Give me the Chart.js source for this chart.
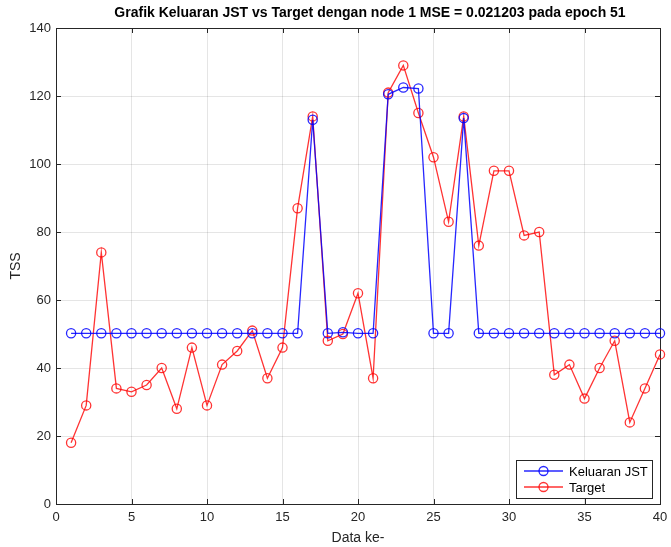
<!DOCTYPE html>
<html>
<head>
<meta charset="utf-8">
<script src="https://cdn.jsdelivr.net/npm/chart.js@4/dist/chart.umd.min.js"></script>
<style>
html,body{margin:0;padding:0;background:#fff;}
#wrap{width:671px;height:547px;}
</style>
</head>
<body>
<div id="wrap"><canvas id="c" width="671" height="547"></canvas></div>
<script>
const titleText = "Grafik Keluaran JST vs Target dengan node 1 MSE = 0.021203 pada epoch 51";
const xLabel = "Data ke-";
const yLabel = "TSS";
const dataIndex = [1,2,3,4,5,6,7,8,9,10,11,12,13,14,15,16,17,18,19,20,21,22,23,24,25,26,27,28,29,30,31,32,33,34,35,36,37,38,39,40];
const keluaranJST = [50.2,50.2,50.2,50.2,50.2,50.2,50.2,50.2,50.2,50.2,50.2,50.2,50.2,50.2,50.2,50.2,113,50.2,50.5,50.2,50.2,120.5,122.5,122.2,50.2,50.2,113.5,50.2,50.2,50.2,50.2,50.2,50.2,50.2,50.2,50.2,50.2,50.2,50.2,50.2];
const target = [18,29,74,34,33,35,40,28,46,29,41,45,51,37,46,87,114,48,50,62,37,121,129,115,102,83,114,76,98,98,79,80,38,41,31,40,48,24,34,44];
const seriesNames = ["Keluaran JST","Target"];
const xTicks = [0,5,10,15,20,25,30,35,40];
const yTicks = [0,20,40,60,80,100,120,140];

const BLUE = "rgba(0,0,255,0.85)";
const RED = "rgba(255,0,0,0.8)";
const AXC = "#262626";
const FONT = "'Liberation Sans', Arial, Helvetica, sans-serif";

function pts(ys){ return dataIndex.map((x,i)=>({x:x,y:ys[i]})); }

const matlabPlugin = {
  id:'matlab',
  beforeDatasetsDraw(chart){
    const ctx = chart.ctx, a = chart.chartArea;
    const xs = chart.scales.x, ys = chart.scales.y;
    ctx.save();
    ctx.strokeStyle = AXC; ctx.lineWidth = 1;
    ctx.strokeRect(Math.round(a.left)+0.5, Math.round(a.top)+0.5, Math.round(a.right-a.left), Math.round(a.bottom-a.top));
    const tl = 5;
    ctx.beginPath();
    xTicks.forEach(v=>{
      const px = Math.round(xs.getPixelForValue(v))+0.5;
      ctx.moveTo(px,a.bottom); ctx.lineTo(px,a.bottom-tl);
      ctx.moveTo(px,a.top); ctx.lineTo(px,a.top+tl);
    });
    yTicks.forEach(v=>{
      const py = Math.round(ys.getPixelForValue(v))+0.5;
      ctx.moveTo(a.left,py); ctx.lineTo(a.left+tl,py);
      ctx.moveTo(a.right,py); ctx.lineTo(a.right-tl,py);
    });
    ctx.stroke();
    ctx.restore();
  },
  afterDraw(chart){
    const ctx = chart.ctx, a = chart.chartArea;
    ctx.save();
    ctx.fillStyle = "#000";
    ctx.font = "bold 14px " + FONT;
    ctx.textAlign = "center"; ctx.textBaseline = "middle";
    ctx.fillText(titleText, (a.left+a.right)/2 + 12, 13);
    const bw = 136, bh = 38;
    const bx = a.right - 8 - bw, by = a.bottom - 6 - bh;
    ctx.fillStyle = "#fff";
    ctx.fillRect(bx,by,bw,bh);
    ctx.strokeStyle = AXC; ctx.lineWidth = 1;
    ctx.strokeRect(Math.round(bx)+0.5, Math.round(by)+0.5, bw, bh);
    const cols = [BLUE, RED];
    ctx.font = "13px " + FONT; ctx.textAlign = "left"; ctx.textBaseline = "middle";
    seriesNames.forEach((n,i)=>{
      const yy = by + 11 + i*16;
      ctx.strokeStyle = cols[i]; ctx.lineWidth = 1.3;
      ctx.beginPath(); ctx.moveTo(bx+8,yy); ctx.lineTo(bx+47,yy); ctx.stroke();
      ctx.beginPath(); ctx.arc(bx+27.5,yy,4.5,0,Math.PI*2); ctx.stroke();
      ctx.fillStyle = "#000";
      ctx.fillText(n, bx+53, yy+1);
    });
    ctx.restore();
  }
};

new Chart(document.getElementById('c'), {
  type:'line',
  data:{
    datasets:[
      {label:seriesNames[0], data:pts(keluaranJST), clip:false, borderColor:BLUE, borderWidth:1.3, pointStyle:'circle', pointRadius:4.6, pointBorderWidth:1.3, pointBorderColor:BLUE, pointBackgroundColor:'rgba(0,0,0,0)', tension:0, fill:false},
      {label:seriesNames[1], data:pts(target), clip:false, borderColor:RED, borderWidth:1.3, pointStyle:'circle', pointRadius:4.6, pointBorderWidth:1.3, pointBorderColor:RED, pointBackgroundColor:'rgba(0,0,0,0)', tension:0, fill:false}
    ]
  },
  options:{
    responsive:false, animation:false, devicePixelRatio:1,
    layout:{padding:{top:28,right:11,left:0,bottom:0}},
    plugins:{legend:{display:false}, title:{display:false}, tooltip:{enabled:false}},
    elements:{point:{hoverRadius:4.6}},
    scales:{
      x:{type:'linear', min:0, max:40,
        afterBuildTicks(s){ s.ticks = xTicks.map(v=>({value:v})); },
        afterFit(s){ s.height = 43; s.paddingRight = 0; s.paddingLeft = 0; },
        ticks:{color:AXC, font:{family:FONT,size:13}, padding:6, maxRotation:0},
        grid:{color:'rgba(0,0,0,0.1)', drawTicks:false},
        border:{display:false},
        title:{display:true, text:xLabel, color:AXC, font:{family:FONT,size:14}, padding:{top:1,bottom:0}}
      },
      y:{type:'linear', min:0, max:140,
        afterBuildTicks(s){ s.ticks = yTicks.map(v=>({value:v})); },
        afterFit(s){ s.width = 56; s.paddingTop = 0; s.paddingBottom = 0; },
        ticks:{color:AXC, font:{family:FONT,size:13}, padding:5},
        grid:{color:'rgba(0,0,0,0.1)', drawTicks:false},
        border:{display:false},
        title:{display:true, text:yLabel, color:AXC, font:{family:FONT,size:14}, padding:{top:8,bottom:4}}
      }
    }
  },
  plugins:[matlabPlugin]
});
</script>
</body>
</html>
